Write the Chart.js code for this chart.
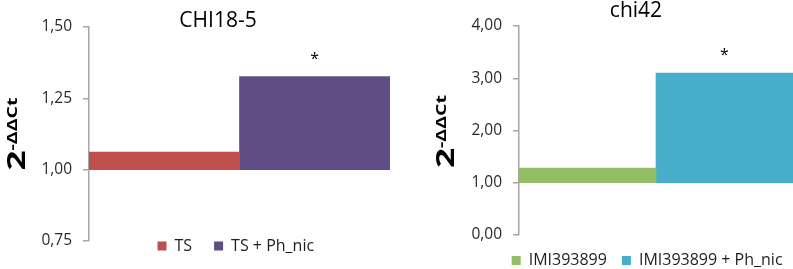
<!DOCTYPE html>
<html><head><meta charset="utf-8">
<script src="https://cdn.jsdelivr.net/npm/chart.js@4/dist/chart.umd.min.js"></script>
<style>
html,body{margin:0;padding:0;background:#fff;}
#wrap{position:relative;width:793px;height:269px;overflow:hidden;background:#fff;}
#c1{position:absolute;left:0;top:0;}
#c2{position:absolute;left:400px;top:0;}
</style></head><body>
<div id="wrap"><canvas id="c1" width="400" height="269"></canvas><canvas id="c2" width="393" height="269"></canvas></div>
<script>
// ---- data ----
const leftTitle = 'CHI18-5';
const leftSeries = ['TS', 'TS + Ph_nic'];
const leftBase = 1.0;
const leftValues = [1.062, 1.326];
const leftMarks = ['', '*'];
const leftTicks = [0.75, 1.00, 1.25, 1.50];
const leftTickLabels = ['0,75', '1,00', '1,25', '1,50'];

const rightTitle = 'chi42';
const rightSeries = ['IMI393899', 'IMI393899 + Ph_nic'];
const rightBase = 1.0;
const rightValues = [1.28, 3.10];
const rightMarks = ['', '*'];
const rightTicks = [0, 1, 2, 3, 4];
const rightTickLabels = ['0,00', '1,00', '2,00', '3,00', '4,00'];

const yLabelMain = '2';
const yLabelSup = '-ΔΔCt';

// ---- styles ----
const leftColors = ['#C0504D', '#604D86'];
const rightColors = ['#93BE66', '#47ADC8'];
const FONT = '"Open Sans", "DejaVu Sans", sans-serif';
const AXIS = '#a6a6a6';

const extras = {
  id: 'extras',
  afterUpdate(chart, args, o) {
    const lg = chart.legend;
    if (lg) {
      const P = lg.options.labels.padding;
      const dx = o.legendX - P - lg.left, dy = o.legendY - P - lg.top;
      lg.left += dx; lg.right += dx; lg.top += dy;
      lg.bottom = o.legendY + 30;
      lg.height = lg.bottom - lg.top;
      (lg.legendHitBoxes || []).forEach(h => { h.left += dx; h.top += dy; });
    }
    const t = chart.titleBlock;
    if (t) {
      const dx = o.titleX - (t.left + t.right) / 2;
      const dy = o.titleY - (t.top + t.height / 2);
      t.left += dx; t.right += dx; t.top += dy; t.bottom += dy;
    }
  },
  afterDraw(chart, args, o) {
    const {ctx, chartArea: a} = chart;
    ctx.save();
    const cy = (a.top + a.bottom) / 2 + (o.yLabelDy || 0);
    ctx.translate(a.left - o.yLabelOffset, cy);
    ctx.rotate(-Math.PI / 2);
    ctx.scale(1.4, 1);
    ctx.fillStyle = '#000';
    ctx.textBaseline = 'alphabetic';
    ctx.textAlign = 'left';
    ctx.font = 'bold 25px ' + FONT;
    const w1 = ctx.measureText(yLabelMain).width;
    ctx.font = 'bold 14px ' + FONT;
    const w2 = ctx.measureText(yLabelSup).width;
    const s = -(w1 + w2) / 2;
    ctx.font = 'bold 25px ' + FONT;
    ctx.fillText(yLabelMain, s, 0);
    ctx.font = 'bold 14px ' + FONT;
    ctx.fillText(yLabelSup, s + w1, -8);
    ctx.restore();

    ctx.save();
    ctx.font = '16px ' + FONT;
    ctx.textAlign = 'center';
    ctx.textBaseline = 'alphabetic';
    ctx.fillStyle = '#000';
    chart.data.datasets.forEach((ds, i) => {
      const m = o.marks[i];
      if (!m) return;
      const el = chart.getDatasetMeta(i).data[0];
      ctx.fillText(m, el.x, Math.min(el.y, el.base) - 13);
    });
    ctx.restore();
  }
};

function makeChart(canvas, p) {
  return new Chart(canvas, {
    type: 'bar',
    data: {
      labels: [p.title],
      datasets: p.series.map((name, i) => ({
        label: name,
        data: [[p.base, p.values[i]]],
        backgroundColor: p.colors[i],
        borderWidth: 0,
        barPercentage: 1,
        categoryPercentage: 1
      }))
    },
    options: {
      responsive: false,
      animation: false,
      devicePixelRatio: 1,
      layout: { padding: p.padding },
      scales: {
        x: { display: false },
        y: {
          min: p.ticks[0],
          max: p.ticks[p.ticks.length - 1],
          afterFit(s) { s.width = p.axisWidth; },
          afterBuildTicks(s) { s.ticks = p.ticks.map(v => ({value: v})); },
          ticks: {
            autoSkip: false,
            padding: 11,
            color: '#2a2a2a',
            font: { family: FONT, size: 15.5 },
            callback: (v) => p.tickLabels[p.ticks.indexOf(v)]
          },
          grid: { drawOnChartArea: false, drawTicks: true, tickLength: 6, color: AXIS, lineWidth: 1.5 },
          border: { display: true, color: AXIS, width: 1.5 }
        }
      },
      plugins: {
        tooltip: { enabled: false },
        title: {
          display: true,
          text: p.title,
          color: '#000',
          padding: 0,
          font: { family: FONT, size: 21, weight: 'normal' }
        },
        legend: {
          display: true,
          position: 'bottom',
          align: 'start',
          maxHeight: 20,
          labels: {
            boxWidth: 9,
            boxHeight: 9,
            padding: p.legendPadding,
            color: '#1e1e1e',
            font: { family: FONT, size: 16 }
          }
        },
        extras: p.extras
      }
    },
    plugins: [extras]
  });
}

makeChart(document.getElementById('c1'), {
  title: leftTitle, series: leftSeries, base: leftBase, values: leftValues,
  colors: leftColors, ticks: leftTicks, tickLabels: leftTickLabels,
  axisWidth: 89, legendPadding: 22,
  padding: { top: 1.8, bottom: 8, left: 0, right: 10 },
  extras: { legendX: 157.5, legendY: 238, titleX: 218, titleY: 21.5, yLabelOffset: 64, yLabelDy: 0, marks: leftMarks }
});

makeChart(document.getElementById('c2'), {
  title: rightTitle, series: rightSeries, base: rightBase, values: rightValues,
  colors: rightColors, ticks: rightTicks, tickLabels: rightTickLabels,
  axisWidth: 119, legendPadding: 15,
  padding: { top: 0.8, bottom: 14, left: 0, right: 0 },
  extras: { legendX: 111.7, legendY: 252.5, titleX: 236, titleY: 11.5, yLabelOffset: 65, yLabelDy: 1, marks: rightMarks }
});
</script>
</body></html>
